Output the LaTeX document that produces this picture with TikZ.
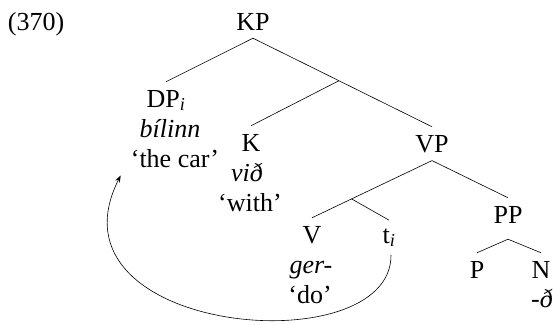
\documentclass[tikz,border=0pt]{standalone}
\usepackage{fontspec}
\setmainfont{Liberation Serif}
\usetikzlibrary{arrows.meta,positioning,calc}

\begin{document}
\begin{tikzpicture}[x=1pt,y=-1pt,every node/.style={font=\fontsize{26}{30}\selectfont,inner sep=0pt,anchor=base},cat/.style={inner ysep=8pt},branch/.style={line width=0.6pt},move/.style={line width=0.6pt,-{Stealth[length=7pt,width=5pt]}}]
\useasboundingbox (0,0) rectangle (553,324);
\node (ex) at (36,30) {(370)};
\node[cat] (kp) at (253,30) {KP};
\node[cat] (dp) at (166,107) {DP\textsubscript{\textit{i}}};
\node (dpw) at (170,137) {\textit{bílinn}};
\node (dpg) at (175,167) {‘the car’};
\node[cat] (k) at (251,151) {K};
\node (kw) at (247,181) {\textit{við}};
\node (kg) at (250,211) {‘with’};
\node[cat] (vp) at (432,152) {VP};
\node[cat] (v) at (312,243) {V};
\node (vw) at (311,273) {\textit{ger-}};
\node (vg) at (310,303) {‘do’};
\node[cat] (t) at (389,243) {t\textsubscript{\textit{i}}};
\node[cat] (pp) at (508,223) {PP};
\node[cat] (p) at (477,278) {P};
\node[cat] (n) at (541,278) {N};
\node (nw) at (542,307) {\textit{-ð}};
% branches
\coordinate (kbar) at ($(kp.south)!0.48!(vp.north)$);
\coordinate (vbar) at ($(vp.south)!0.67!(v.north)$);
\draw[branch] (dp.north) -- (kp.south) -- (vp.north);
\draw[branch] (kbar) -- (k.north);
\draw[branch] (v.north) -- (vp.south) -- (pp.north);
\draw[branch] (vbar) -- (t.north);
\draw[branch] (p.north) -- ([yshift=-8pt]pp.south) -- (n.north);
% movement
\draw[move] ([xshift=2pt]t.south) .. controls (392,365) and (40,335) .. ([xshift=-10pt,yshift=-8pt]dpg.south west);
\end{tikzpicture}
\end{document}
